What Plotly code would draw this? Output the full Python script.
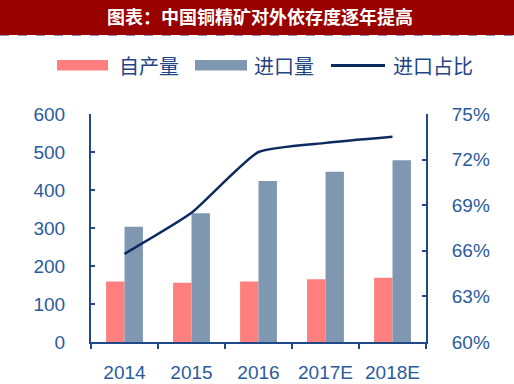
import plotly.graph_objects as go

categories = ["2014", "2015", "2016", "2017E", "2018E"]
own_output = [159, 156, 159, 165, 169]
imports = [303, 339, 424, 448, 478]
import_share = [0.658, 0.685, 0.725, 0.731, 0.735]

title_text = "图表：中国铜精矿对外依存度逐年提高"
legend_names = ["自产量", "进口量", "进口占比"]

RED = "#FF7F7F"
BLUE = "#7F97B1"
NAVY = "#0E2B5E"
AXIS = "#1F4A86"
TXT = "#2A5B9C"

fig = go.Figure()
fig.add_trace(go.Bar(x=categories, y=own_output, name=legend_names[0],
                     marker=dict(color=RED, line=dict(width=0)), showlegend=False))
fig.add_trace(go.Bar(x=categories, y=imports, name=legend_names[1],
                     marker=dict(color=BLUE, line=dict(width=0)), showlegend=False))
fig.add_trace(go.Scatter(x=categories, y=import_share, name=legend_names[2], yaxis="y2",
                         mode="lines", line=dict(color=NAVY, width=2.5, shape="spline", smoothing=0.5),
                         showlegend=False))

# plot area in pixels: x 91..426, y 114..342
L, R, T, B = 91, 426, 114, 342
W, H = R - L, B - T
def px(x):
    return (x - L) / W
def py(y):
    return (B - y) / H

shapes = [
    dict(type="rect", xref="paper", yref="paper", x0=px(-2), x1=px(516), y0=py(35), y1=py(-2),
         fillcolor="#990000", line=dict(width=0), layer="above"),
    dict(type="line", xref="paper", yref="paper", x0=px(0), x1=px(514), y0=py(35.5), y1=py(35.5),
         line=dict(color="#8C8CC8", width=1, dash="dash")),
    dict(type="rect", xref="paper", yref="paper", x0=px(57), x1=px(108), y0=py(70.5), y1=py(60),
         fillcolor=RED, line=dict(width=0)),
    dict(type="rect", xref="paper", yref="paper", x0=px(195), x1=px(247), y0=py(70.5), y1=py(60),
         fillcolor=BLUE, line=dict(width=0)),
    dict(type="line", xref="paper", yref="paper", x0=px(331), x1=px(385), y0=py(65.5), y1=py(65.5),
         line=dict(color=NAVY, width=3)),
]

annotations = [
    dict(text=title_text, xref="paper", yref="paper", x=px(260), y=py(16), showarrow=False,
         xanchor="center", yanchor="middle",
         font=dict(family="Noto Sans CJK SC", size=18, color="white", weight="bold")),
    dict(text=legend_names[0], xref="paper", yref="paper", x=px(117), y=py(65), showarrow=False,
         xanchor="left", yanchor="middle", font=dict(family="Noto Sans CJK SC", size=20, color="#1F4585")),
    dict(text=legend_names[1], xref="paper", yref="paper", x=px(252), y=py(65), showarrow=False,
         xanchor="left", yanchor="middle", font=dict(family="Noto Sans CJK SC", size=20, color="#1F4585")),
    dict(text=legend_names[2], xref="paper", yref="paper", x=px(391), y=py(65), showarrow=False,
         xanchor="left", yanchor="middle", font=dict(family="Noto Sans CJK SC", size=20, color="#1F4585")),
]

tickfont = dict(family="Liberation Sans", size=19, color=TXT)

fig.update_layout(
    width=514, height=384,
    margin=dict(l=L, r=514 - R, t=T, b=384 - B, pad=0, autoexpand=False),
    paper_bgcolor="white", plot_bgcolor="white",
    barmode="group", bargap=0.45, bargroupgap=0,
    showlegend=False, hovermode=False,
    shapes=shapes, annotations=annotations,
    xaxis=dict(type="category", showline=True, linecolor=AXIS, linewidth=2, automargin=False,
               ticks="outside", ticklen=5, tickwidth=2, tickcolor=AXIS, tickson="boundaries",
               tickfont=tickfont, ticklabelstandoff=12, showgrid=False, zeroline=False),
    yaxis=dict(range=[0, 600], dtick=100, showline=True, linecolor=AXIS, linewidth=2, automargin=False,
               ticks="inside", ticklen=4, tickwidth=2, tickcolor=AXIS,
               tickfont=tickfont, ticklabelstandoff=20, showgrid=False, zeroline=False),
    yaxis2=dict(range=[0.60, 0.75], dtick=0.03, tickformat=".0%", overlaying="y", side="right",
                showline=True, linecolor=AXIS, linewidth=2, automargin=False,
                ticks="inside", ticklen=4, tickwidth=2, tickcolor=AXIS,
                tickfont=tickfont, ticklabelstandoff=20, showgrid=False, zeroline=False),
)

fig.write_html("out.html", config={"displayModeBar": False, "staticPlot": True},
               post_script="document.body.style.margin='0';document.body.style.overflow='hidden';")
